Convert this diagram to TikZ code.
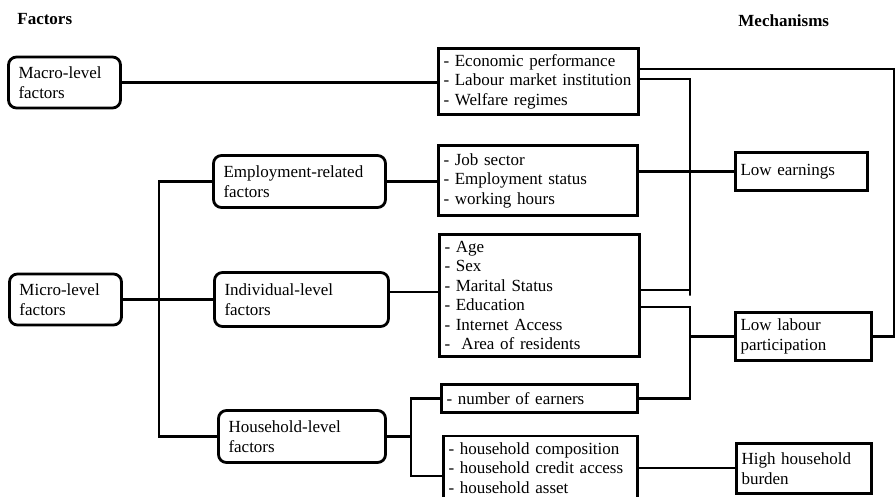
\documentclass[tikz,border=0pt]{standalone}
\usepackage{fontspec}
\setmainfont{Liberation Serif}
\begin{document}
\begin{tikzpicture}[x=1pt,y=-1pt,line width=2.8pt,
	font=\fontsize{17pt}{19.5pt}\selectfont,
	fac/.style={draw,rounded corners=8pt,align=left,inner xsep=10pt,inner ysep=0pt},
	lst/.style={draw,align=left,inner xsep=5pt,inner ysep=0pt},
	mech/.style={draw,align=left,inner xsep=5pt,inner ysep=0pt}]
	\useasboundingbox (0,0) rectangle (896,497);
	\clip (0,0) rectangle (896,497);
	\node[font=\fontsize{17pt}{19.5pt}\selectfont\bfseries,anchor=west,inner sep=0pt] (factT) at (16,19) {Factors};
	\node[font=\fontsize{17pt}{19.5pt}\selectfont\bfseries,anchor=west,inner sep=0pt] (mechT) at (737,21) {Mechanisms};
	\node[fac,text width=92pt,minimum height=51pt] (macro) at (64.5,82.5) {Macro-level\\factors};
	\node[fac,text width=92pt,minimum height=51pt] (micro) at (65.5,299.5) {Micro-level\\factors};
	\node[fac,text width=152pt,minimum height=52pt] (emp) at (299.5,181.5) {Employment-related\\factors};
	\node[fac,text width=154pt,minimum height=54pt] (ind) at (301.5,299.5) {Individual-level\\factors};
	\node[fac,text width=147pt,minimum height=52pt] (hh) at (302,436.5) {Household-level\\factors};
	\node[lst,text width=190pt,minimum height=66pt] (econ) at (538.5,81.5) {- Economic performance\\- Labour market institution\\- Welfare regimes};
	\node[lst,text width=189pt,minimum height=70pt] (job) at (538,180.5) {- Job sector\\- Employment status\\- working hours};
	\node[lst,text width=190pt,minimum height=122pt] (age) at (539.5,295.5) {- Age\\- Sex\\- Marital Status\\- Education\\- Internet Access\\- \ Area of residents};
	\node[lst,text width=186pt,minimum height=28pt] (earn) at (539.5,398.5) {- number of earners};
	\node[lst,text width=184pt,minimum height=64pt] (comp) at (540.5,468) {- household composition\\- household credit access\\- household asset};
	\node[mech,text width=122pt,minimum height=38pt] (lowe) at (801.5,171.5) {Low earnings};
	\node[mech,text width=126pt,minimum height=48pt] (lowl) at (803.5,336.5) {Low labour\\participation};
	\node[mech,text width=125pt,minimum height=50pt] (high) at (804,468.5) {High household\\burden};
	\coordinate (trunk) at (159,0);
	\coordinate (bus) at (690,0);
	\coordinate (hub) at (411,0);
	\draw (macro.east) -- (macro.east -| econ.west);
	\draw ([yshift=12.5pt]econ.east) -- ++(254,0) |- (lowl.east);
	\draw ([yshift=2.5pt]econ.east) -| (bus |- age.east) |- ([yshift=5.5pt]age.east);
	\draw (emp.east) -- (emp.east -| job.west);
	\draw (job.east |- lowe.west) -- (lowe.west);
	\draw (micro.east) -- (ind.west);
	\draw (emp.west) -| (trunk |- hh.west) -- (hh.west);
	\draw ([yshift=7.5pt]ind.east) -- ([yshift=7.5pt]ind.east -| age.west);
	\draw ([yshift=-11.5pt]age.east) -| (bus |- earn.east) -- (earn.east);
	\draw (lowl.west) -- (bus |- lowl.west);
	\draw (hh.east) -- (hub |- hh.east);
	\draw (earn.west) -| (hub |- hh.east) |- ([yshift=-8pt]comp.west);
	\draw (comp.east) -- (comp.east -| high.west);
\end{tikzpicture}
\end{document}
